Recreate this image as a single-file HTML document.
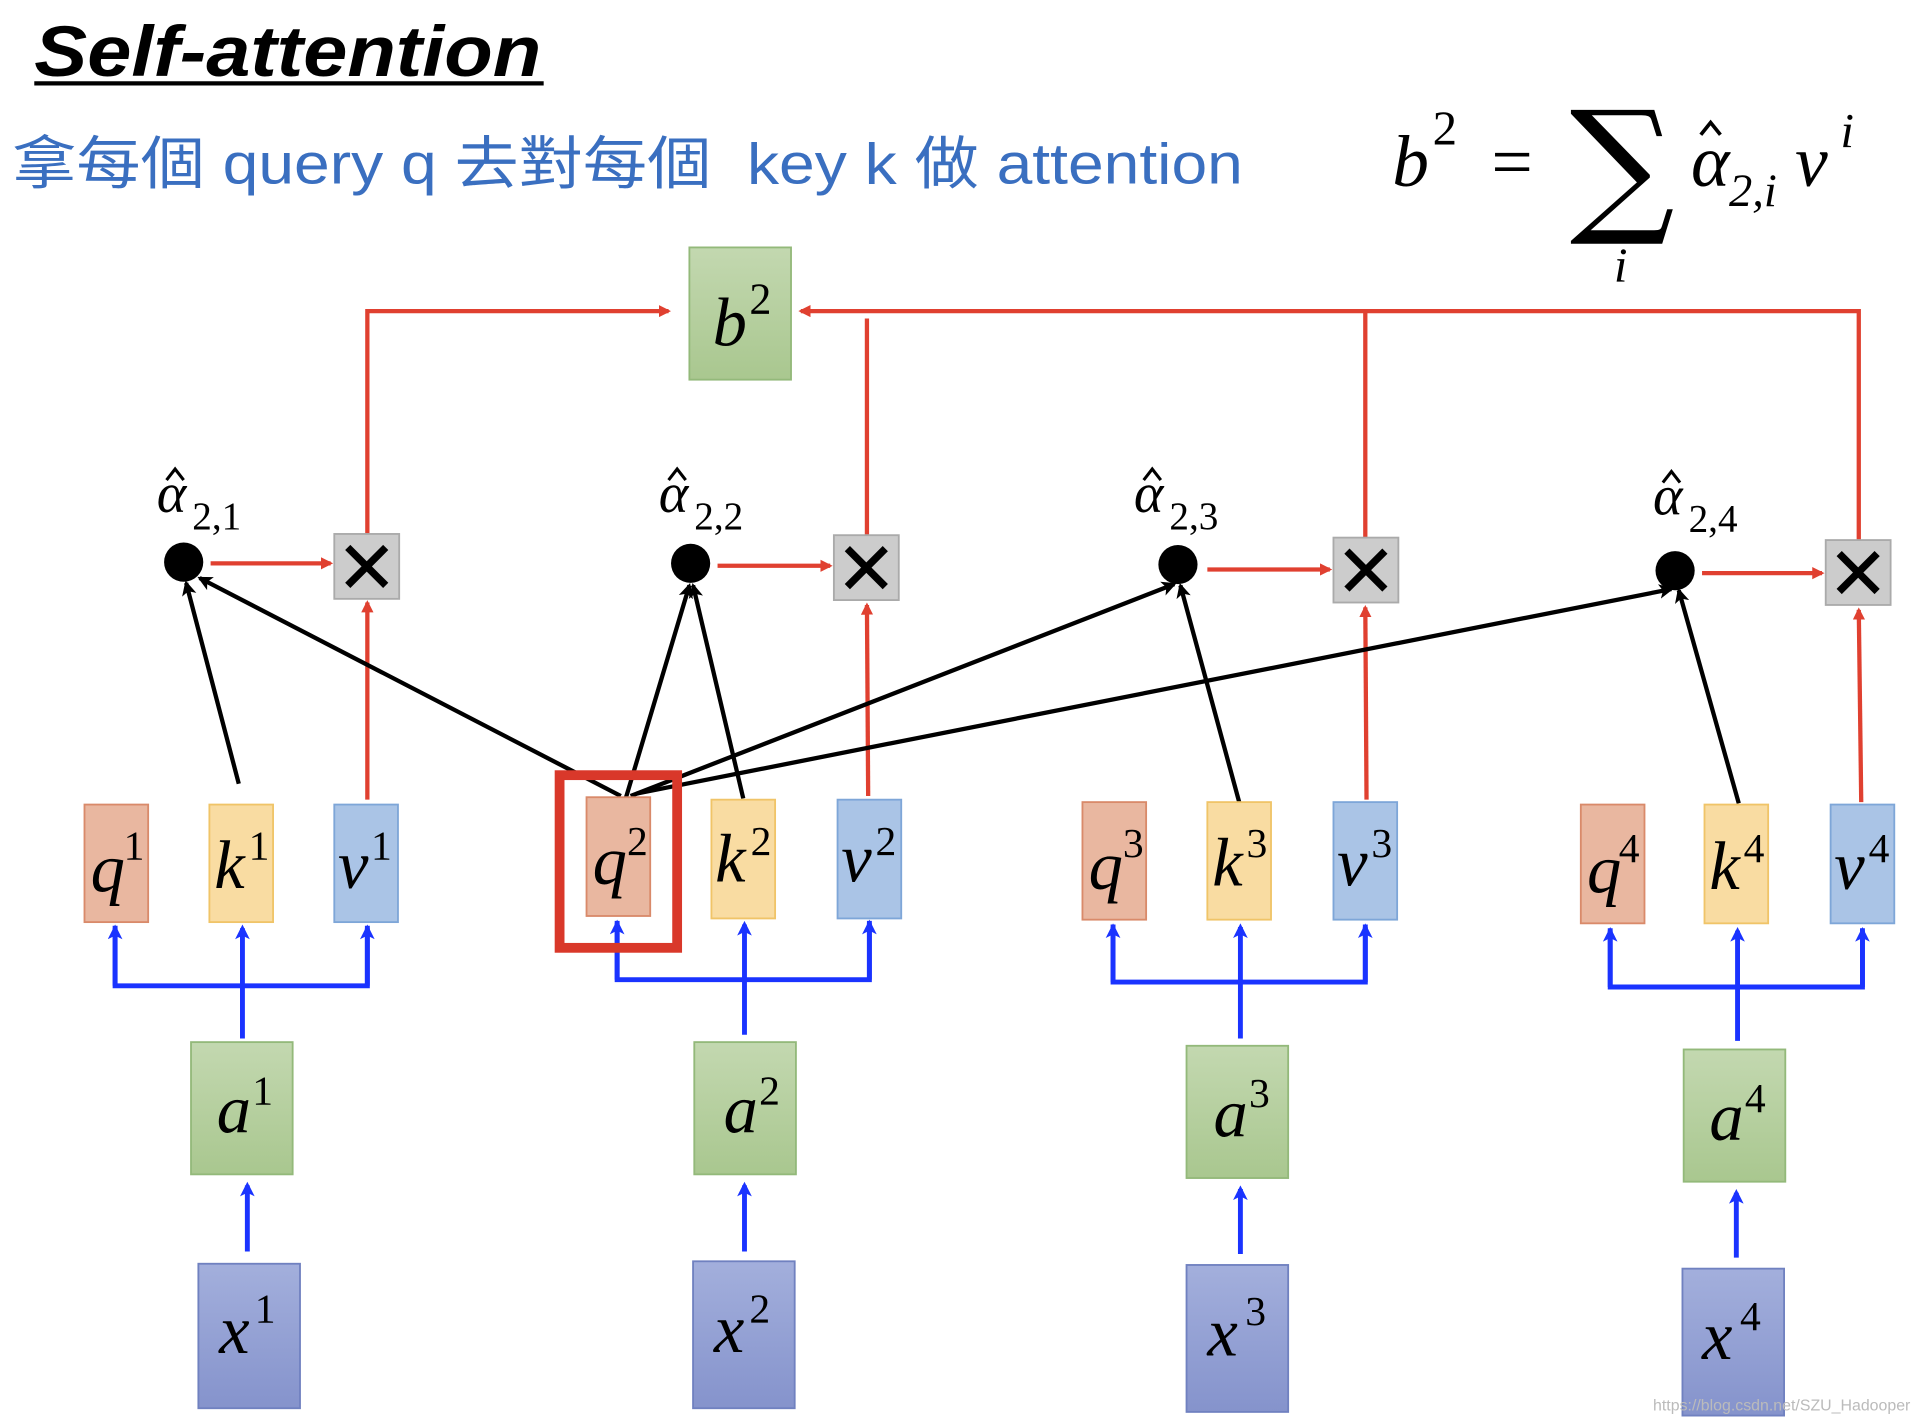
<!DOCTYPE html>
<html><head><meta charset="utf-8"><style>
html,body{margin:0;padding:0;background:#fff;}
svg{display:block;}
.m{font-family:"Liberation Serif",serif;font-style:italic;}
</style></head><body>
<svg width="1920" height="1423" viewBox="0 0 1568 1162" xmlns="http://www.w3.org/2000/svg">
<defs>
<marker id="ar" markerWidth="10" markerHeight="10" refX="8" refY="5" orient="auto" markerUnits="userSpaceOnUse"><path d="M0,0 L10,5 L0,10 z" fill="#e04030"/></marker>
<marker id="ab" markerWidth="12" markerHeight="12" refX="9" refY="6" orient="auto" markerUnits="userSpaceOnUse"><path d="M0,0 L12,6 L0,12 L3,6 z" fill="#1a33ff"/></marker>
<marker id="ak" markerWidth="14" markerHeight="14" refX="10" refY="7" orient="auto" markerUnits="userSpaceOnUse"><path d="M0,1 L12,7 L0,13 L3,7 z" fill="#000"/></marker>
<linearGradient id="gx" x1="0" y1="0" x2="0" y2="1"><stop offset="0" stop-color="#a3afdc"/><stop offset="1" stop-color="#8593cc"/></linearGradient>
<linearGradient id="gg" x1="0" y1="0" x2="0" y2="1"><stop offset="0" stop-color="#c3d8b0"/><stop offset="1" stop-color="#a9c78f"/></linearGradient>
</defs>
<text x="28" y="62" font-family="Liberation Sans,sans-serif" font-weight="bold" font-style="italic" font-size="58" textLength="414" lengthAdjust="spacingAndGlyphs">Self-attention</text>
<line x1="28" y1="68" x2="444" y2="68" stroke="#000" stroke-width="3.5"/>
<text x="10" y="150" font-family="Liberation Sans,'Noto Sans CJK TC',sans-serif" font-size="47" fill="#3a6fc0" textLength="1005" lengthAdjust="spacingAndGlyphs">拿每個 query q 去對每個&#160; key k 做 attention</text>
<g class="m" font-size="60">
<text x="1137" y="152">b</text><text x="1170" y="118" font-size="40" font-style="normal">2</text>
<text x="1218" y="152" font-style="normal">=</text>
<text x="1282" y="176" font-size="120" font-style="normal" font-family="DejaVu Serif,serif">∑</text>
<text x="1318" y="230" font-size="40">i</text>
<text x="1381" y="152">α</text>
<text x="1412" y="168" font-size="38">2,i</text>
<text x="1466" y="152">v</text><text x="1503" y="120" font-size="40">i</text>
</g>
<polyline points="1389,110 1397,100 1405,110" fill="none" stroke="#000" stroke-width="3"/>
<!-- red lines -->
<g stroke="#e04030" stroke-width="3.5" fill="none">
<polyline points="300,436 300,254 546,254" marker-end="url(#ar)"/>
<line x1="708" y1="437" x2="708" y2="260"/>
<line x1="1115" y1="439" x2="1115" y2="254"/>
<polyline points="1518,441 1518,254 654,254" marker-end="url(#ar)"/>
<line x1="172" y1="460" x2="270" y2="460" marker-end="url(#ar)"/>
<line x1="586" y1="462" x2="678" y2="462" marker-end="url(#ar)"/>
<line x1="986" y1="465" x2="1086" y2="465" marker-end="url(#ar)"/>
<line x1="1390" y1="468" x2="1488" y2="468" marker-end="url(#ar)"/>
<line x1="300" y1="653" x2="300" y2="492" marker-end="url(#ar)"/>
<line x1="709" y1="650" x2="708" y2="494" marker-end="url(#ar)"/>
<line x1="1116" y1="653" x2="1115" y2="496" marker-end="url(#ar)"/>
<line x1="1520" y1="655" x2="1518" y2="498" marker-end="url(#ar)"/>
</g>
<rect x="563" y="202" width="83" height="108" fill="url(#gg)" stroke="#93b97a" stroke-width="1.5"/>
<text class="m" x="582" y="282" font-size="56">b</text><text x="612" y="256" font-family="Liberation Serif,serif" font-size="36">2</text>
<g fill="#000"><circle cx="150" cy="459" r="16"/><circle cx="564" cy="460" r="16"/><circle cx="962" cy="461" r="16"/><circle cx="1368" cy="466" r="16"/></g>
<g fill="#cccccc" stroke="#aaa" stroke-width="1.5">
<rect x="273" y="436" width="53" height="53"/><rect x="681" y="437" width="53" height="53"/><rect x="1089" y="439" width="53" height="53"/><rect x="1491" y="441" width="53" height="53"/></g>
<g stroke="#000" stroke-width="6">
<path d="M284,447 L315,478 M315,447 L284,478"/><path d="M692,448 L723,479 M723,448 L692,479"/><path d="M1100,450 L1131,481 M1131,450 L1100,481"/><path d="M1502,452 L1533,483 M1533,452 L1502,483"/></g>
<g class="m" font-size="46">
<text x="128" y="418">α</text><text x="157" y="432" font-size="32" font-style="normal">2,1</text>
<text x="538" y="418">α</text><text x="567" y="432" font-size="32" font-style="normal">2,2</text>
<text x="926" y="418">α</text><text x="955" y="432" font-size="32" font-style="normal">2,3</text>
<text x="1350" y="420">α</text><text x="1379" y="434" font-size="32" font-style="normal">2,4</text>
</g>
<g fill="none" stroke="#000" stroke-width="2.5">
<polyline points="136,392 143,383 150,392"/><polyline points="546,392 553,383 560,392"/>
<polyline points="934,392 941,383 948,392"/><polyline points="1358,394 1365,385 1372,394"/>
</g>
<g stroke="#000" stroke-width="3.5" marker-end="url(#ak)">
<line x1="195" y1="640" x2="152" y2="476"/>
<line x1="507" y1="650" x2="163" y2="472"/>
<line x1="511" y1="652" x2="563" y2="478"/>
<line x1="607" y1="652" x2="566" y2="478"/>
<line x1="515" y1="650" x2="959" y2="477"/>
<line x1="1012" y1="655" x2="964" y2="478"/>
<line x1="520" y1="648" x2="1365" y2="481"/>
<line x1="1420" y1="656" x2="1371" y2="482"/>
</g>
<g stroke="#1a33ff" stroke-width="4" fill="none">
<polyline points="94,756 94,805 300,805 300,756"/><line x1="198" y1="848" x2="198" y2="758" marker-end="url(#ab)"/>
<line x1="94" y1="805" x2="94" y2="758" marker-end="url(#ab)"/><line x1="300" y1="805" x2="300" y2="758" marker-end="url(#ab)"/>
<polyline points="504,752 504,800 710,800 710,752"/><line x1="608" y1="845" x2="608" y2="755" marker-end="url(#ab)"/>
<line x1="504" y1="800" x2="504" y2="754" marker-end="url(#ab)"/><line x1="710" y1="800" x2="710" y2="754" marker-end="url(#ab)"/>
<polyline points="909,755 909,802 1115,802 1115,755"/><line x1="1013" y1="848" x2="1013" y2="757" marker-end="url(#ab)"/>
<line x1="909" y1="802" x2="909" y2="757" marker-end="url(#ab)"/><line x1="1115" y1="802" x2="1115" y2="757" marker-end="url(#ab)"/>
<polyline points="1315,758 1315,806 1521,806 1521,758"/><line x1="1419" y1="850" x2="1419" y2="760" marker-end="url(#ab)"/>
<line x1="1315" y1="806" x2="1315" y2="760" marker-end="url(#ab)"/><line x1="1521" y1="806" x2="1521" y2="760" marker-end="url(#ab)"/>
<line x1="202" y1="1022" x2="202" y2="968" marker-end="url(#ab)"/>
<line x1="608" y1="1022" x2="608" y2="968" marker-end="url(#ab)"/>
<line x1="1013" y1="1024" x2="1013" y2="971" marker-end="url(#ab)"/>
<line x1="1418" y1="1027" x2="1418" y2="974" marker-end="url(#ab)"/>
</g>
<g stroke-width="1.5">
<rect x="69" y="657" width="52" height="96" fill="#e9b7a0" stroke="#d98a6a"/>
<rect x="171" y="657" width="52" height="96" fill="#f9dca2" stroke="#f0c468"/>
<rect x="273" y="657" width="52" height="96" fill="#aac4e6" stroke="#7ea6d8"/>
<rect x="479" y="651" width="52" height="97" fill="#e9b7a0" stroke="#d98a6a"/>
<rect x="581" y="653" width="52" height="97" fill="#f9dca2" stroke="#f0c468"/>
<rect x="684" y="653" width="52" height="97" fill="#aac4e6" stroke="#7ea6d8"/>
<rect x="884" y="655" width="52" height="96" fill="#e9b7a0" stroke="#d98a6a"/>
<rect x="986" y="655" width="52" height="96" fill="#f9dca2" stroke="#f0c468"/>
<rect x="1089" y="655" width="52" height="96" fill="#aac4e6" stroke="#7ea6d8"/>
<rect x="1291" y="657" width="52" height="97" fill="#e9b7a0" stroke="#d98a6a"/>
<rect x="1392" y="657" width="52" height="97" fill="#f9dca2" stroke="#f0c468"/>
<rect x="1495" y="657" width="52" height="97" fill="#aac4e6" stroke="#7ea6d8"/>
<rect x="156" y="851" width="83" height="108" fill="url(#gg)" stroke="#93b97a"/>
<rect x="567" y="851" width="83" height="108" fill="url(#gg)" stroke="#93b97a"/>
<rect x="969" y="854" width="83" height="108" fill="url(#gg)" stroke="#93b97a"/>
<rect x="1375" y="857" width="83" height="108" fill="url(#gg)" stroke="#93b97a"/>
<rect x="162" y="1032" width="83" height="118" fill="url(#gx)" stroke="#7081c0"/>
<rect x="566" y="1030" width="83" height="120" fill="url(#gx)" stroke="#7081c0"/>
<rect x="969" y="1033" width="83" height="120" fill="url(#gx)" stroke="#7081c0"/>
<rect x="1374" y="1036" width="83" height="120" fill="url(#gx)" stroke="#7081c0"/>
</g>
<rect x="457" y="633" width="96" height="141" fill="none" stroke="#d9382a" stroke-width="8"/>
<g class="m" font-size="56">
<text x="74" y="728">q</text><text x="175" y="725">k</text><text x="276" y="725">v</text>
<text x="484" y="722">q</text><text x="584" y="720">k</text><text x="687" y="720">v</text>
<text x="889" y="726">q</text><text x="990" y="723">k</text><text x="1092" y="723">v</text>
<text x="1296" y="729">q</text><text x="1396" y="726">k</text><text x="1498" y="726">v</text>
<text x="177" y="925">a</text><text x="591" y="925">a</text><text x="991" y="928">a</text><text x="1396" y="931">a</text>
<text x="179" y="1105">x</text><text x="583" y="1104">x</text><text x="986" y="1107">x</text><text x="1390" y="1110">x</text>
</g>
<g font-family="Liberation Serif,serif" font-size="34">
<text x="101" y="702">1</text><text x="203" y="702">1</text><text x="303" y="702">1</text>
<text x="512" y="698">2</text><text x="613" y="698">2</text><text x="715" y="698">2</text>
<text x="917" y="700">3</text><text x="1018" y="700">3</text><text x="1120" y="700">3</text>
<text x="1322" y="704">4</text><text x="1424" y="704">4</text><text x="1526" y="704">4</text>
<text x="206" y="902">1</text><text x="620" y="902">2</text><text x="1020" y="904">3</text><text x="1425" y="908">4</text>
<text x="208" y="1080">1</text><text x="612" y="1080">2</text><text x="1017" y="1082">3</text><text x="1421" y="1086">4</text>
</g>
<text x="1350" y="1152" font-family="Liberation Sans,sans-serif" font-size="13" fill="#bbb">https://blog.csdn.net/SZU_Hadooper</text>
</svg>
</body></html>
